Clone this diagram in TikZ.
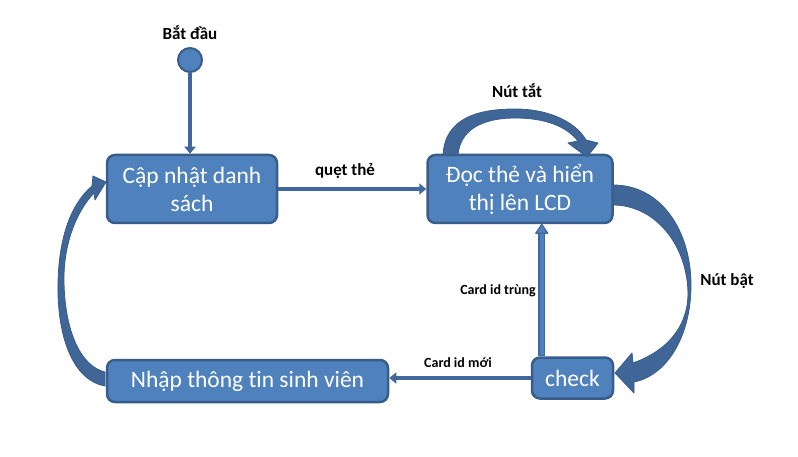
\documentclass[tikz,border=0pt]{standalone}
\usepackage{fontspec}
\setmainfont{Carlito}[Ligatures=NoCommon]
\usetikzlibrary{arrows.meta,calc}
\definecolor{boxfill}{HTML}{4F81BD}
\definecolor{boxedge}{HTML}{385D8A}
\definecolor{clink}{HTML}{41689C}
\definecolor{cbig}{HTML}{3F6697}
\begin{document}
\begin{tikzpicture}[x=1pt,y=-1pt,
  box/.style={draw=boxedge, fill=boxfill, line width=2.5pt, rounded corners=8pt, text=white,
    font=\fontsize{23.5}{28}\selectfont, align=center, inner sep=0pt},
  lbl/.style={font=\bfseries\fontsize{17}{19}\selectfont, text=black, inner sep=0pt},
  slbl/.style={font=\bfseries\fontsize{14}{16}\selectfont, text=black, inner sep=0pt},
  link/.style={draw=clink, line width=4.5pt, -{Triangle[length=7pt,width=11pt]}},
  bigarrow/.style={fill=cbig, draw=boxedge, line width=0.8pt, line join=round}]
\useasboundingbox (0,0) rectangle (798,457);
\fill[white] (0,0) rectangle (798,457);

% states
\node[circle, fill=boxfill, draw=boxedge, line width=2pt, minimum size=24pt, inner sep=0pt] (start) at (190,60) {};
\node[box, minimum width=170pt, minimum height=68pt] (b1) at (192,189) {Cập nhật danh\\sách};
\node[box, minimum width=185pt, minimum height=68pt] (b2) at (520,189) {Đọc thẻ và hiển\\thị lên LCD};
\node[box, minimum width=81pt, minimum height=41pt] (chk) at (572.5,378) {check};
\node[box, minimum width=281pt, minimum height=42pt] (b3) at (247.5,381) {Nhập thông tin sinh viên};

% simple connectors
\draw[link] (start.south) -- (start.south |- b1.north);
\draw[link] (b1.east) -- (b2.west);
\draw[link, line width=4pt] (chk.west) -- (chk.west -| b3.east);

% double arrow up from check
\coordinate (u1) at ($(chk.north west)+(11,0)$);
\coordinate (u2) at (u1 |- b2.south);
\draw[clink, line width=7pt] (u1) -- ($(u2)+(0,8)$);
\draw[boxfill, line width=4pt] ($(u1)+(0,-1)$) -- ($(u2)+(0,8)$);
\filldraw[fill=boxfill, draw=clink, line width=1.2pt, line join=round] (u2) -- ($(u2)+(-6,9)$) -- ($(u2)+(6,9)$) -- cycle;

% big curved arrows
\path[bigarrow] (443,155) .. controls (445,118) and (478,109) .. (515,109)
  .. controls (552,109) and (577,124) .. (586,140) -- (598,143) -- (587,157) -- (568,143) -- (578,141)
  .. controls (566,126) and (545,118) .. (515,118) .. controls (482,118) and (460,130) .. (458,155) -- cycle;
\path[bigarrow] (613,185) .. controls (662,185) and (691,232) .. (691,285)
  .. controls (691,335) and (668,375) .. (634,382) -- (634,393) -- (615,373) -- (632,353) -- (633,363)
  .. controls (664,352) and (687,330) .. (688,295) .. controls (688,245) and (655,205) .. (613,205) -- cycle;
\path[bigarrow] (105,386) .. controls (72,380) and (57,335) .. (58,283)
  .. controls (59,235) and (72,203) .. (92,186) -- (93,176) -- (106,182) -- (95,200) -- (94,193)
  .. controls (76,212) and (63,245) .. (64,283) .. controls (65,330) and (80,366) .. (105,372) -- cycle;

% labels
\node[lbl] (lstart) at (190,33) {Bắt đầu};
\node[lbl] (lswipe) at (345,171) {quẹt thẻ};
\node[lbl] (loff) at (517,91) {Nút tắt};
\node[lbl] (lon) at (727,281) {Nút bật};
\node[slbl] (ldup) at (498,291) {Card id trùng};
\node[slbl] (lnew) at (458,363) {Card id mới};
\end{tikzpicture}
\end{document}
